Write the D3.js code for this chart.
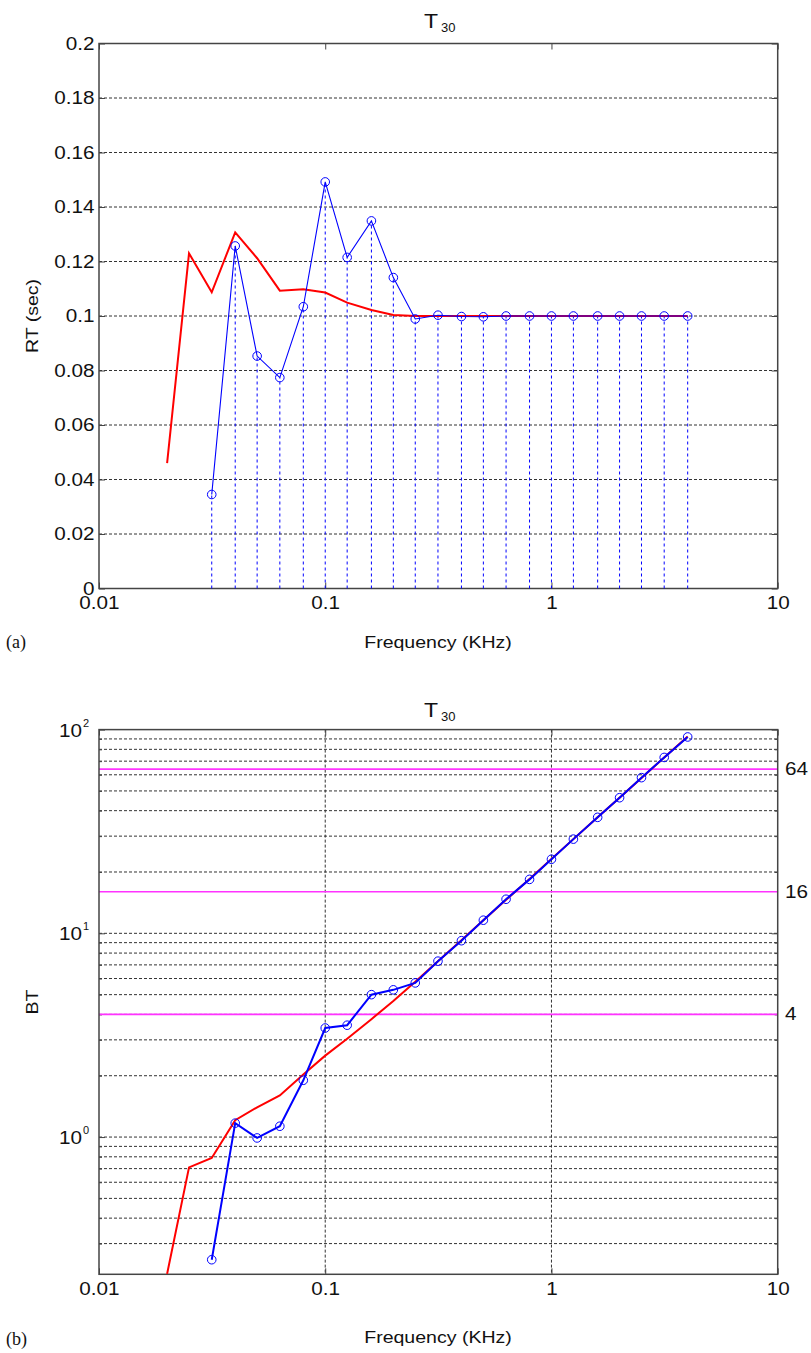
<!DOCTYPE html>
<html>
<head>
<meta charset="utf-8">
<script src="https://cdn.jsdelivr.net/npm/d3@7"></script>
<style>
  body { margin: 0; background: #fff; }
  svg text { font-family: "Liberation Sans", Arial, sans-serif; fill: #111; }
</style>
</head>
<body>
<div id="chart"></div>
<script>
// one-third octave band centres (kHz)
const freqs = [0.0315, 0.04, 0.05, 0.063, 0.08, 0.1, 0.125, 0.16, 0.2, 0.25, 0.315,
  0.4, 0.5, 0.63, 0.8, 1, 1.25, 1.6, 2, 2.5, 3.15, 4];
const modelFreqs = [0.02, 0.025, 0.0315, 0.04, 0.05, 0.063, 0.08, 0.1, 0.125, 0.16, 0.2, 0.25,
  0.315, 0.4, 0.5, 0.63, 0.8, 1, 1.25, 1.6, 2, 2.5, 3.15, 4];

// (a) reverberation time, sec
const rtMeasured = [0.0345, 0.1257, 0.0853, 0.0774, 0.1034, 0.1492, 0.1215, 0.1349, 0.1141, 0.0989, 0.1003,
  0.0998, 0.0997, 0.1, 0.1, 0.1, 0.1, 0.1, 0.1, 0.1, 0.1, 0.1];
const rtModel = [0.046, 0.123, 0.1087, 0.1307, 0.1212, 0.1093, 0.1098, 0.1086, 0.1049, 0.1022, 0.1004, 0.1,
  0.1, 0.1, 0.1, 0.1, 0.1, 0.1, 0.1, 0.1, 0.1, 0.1, 0.1, 0.1];

// (b) bandwidth x time product
const btMeasured = [0.25, 1.17, 0.99, 1.13, 1.9, 3.43, 3.54, 5.0, 5.28, 5.71, 7.3,
  9.2, 11.6, 14.7, 18.4, 23.1, 29.0, 37.1, 46.3, 58.1, 73.0, 92.0];
const btModel = [0.213, 0.71, 0.79, 1.21, 1.40, 1.60, 2.03, 2.51, 3.04, 3.79, 4.65, 5.79,
  7.30, 9.26, 11.6, 14.6, 18.5, 23.2, 29.0, 37.1, 46.3, 57.9, 73.0, 92.6];
const btLevels = [4, 16, 64];

const xTicks = [0.01, 0.1, 1, 10];
const xTickLabels = ["0.01", "0.1", "1", "10"];
const rtTicks = [0, 0.02, 0.04, 0.06, 0.08, 0.1, 0.12, 0.14, 0.16, 0.18, 0.2];
const btMajor = [1, 10, 100];
const btMajorExp = ["0", "1", "2"];
const btMinor = [0.3, 0.4, 0.5, 0.6, 0.7, 0.8, 0.9, 2, 3, 4, 5, 6, 7, 8, 9, 20, 30, 40, 50, 60, 70, 80, 90];

const W = 811, H = 1353;
const left = 99, right = 777.7;
const stretch = "scale(1.15,1)";
const gridDash = "3,2";
const boxColor = "#444";
const tickFont = "18px";

var svg = d3.select("#chart").append("svg")
  .attr("width", W)
  .attr("height", H);

var x = d3.scaleLog().domain([0.01, 10]).range([left, right]);

function label(g, px, py, txt, size, anchor, rot) {
  return g.append("text")
    .attr("transform", "translate(" + px + "," + py + ")" + (rot ? " rotate(-90)" : "") + " " + stretch)
    .attr("text-anchor", anchor)
    .style("font-size", size + "px")
    .text(txt);
}

function title(g, cy) {
  g.append("text")
    .attr("transform", "translate(" + 424 + "," + cy + ") " + stretch)
    .style("font-size", "20px")
    .text("T");
  g.append("text")
    .attr("x", 441).attr("y", cy + 4)
    .style("font-size", "13px")
    .text("30");
}

function frame(g, y0, y1) {
  // inward ticks on all four sides
  g.append("g")
    .attr("transform", "translate(0," + y1 + ")")
    .call(d3.axisBottom(x).tickValues(xTicks).tickSizeInner(-6).tickSizeOuter(0).tickPadding(8)
      .tickFormat(function(d, i) { return xTickLabels[i]; }))
    .call(a => a.select(".domain").remove())
    .call(a => a.selectAll("line").attr("stroke", boxColor))
    .call(a => a.selectAll("text").attr("transform", stretch).style("font-size", tickFont).attr("fill", "#111"));
  g.append("g")
    .attr("transform", "translate(0," + y0 + ")")
    .call(d3.axisTop(x).tickValues(xTicks).tickSizeInner(-6).tickSizeOuter(0).tickFormat(""))
    .call(a => a.select(".domain").remove())
    .call(a => a.selectAll("line").attr("stroke", boxColor));
  g.append("rect")
    .attr("x", left).attr("y", y0)
    .attr("width", right - left).attr("height", y1 - y0)
    .attr("fill", "none")
    .attr("stroke", boxColor)
    .attr("stroke-width", 1.5);
}

// ---------- (a) RT ----------
var ya = d3.scaleLinear().domain([0, 0.2]).range([588.5, 43.5]);
var ga = svg.append("g");

ga.selectAll(".gridA")
  .data(rtTicks.filter(d => d > 0 && d < 0.2))
  .enter().append("line")
    .attr("x1", left).attr("x2", right)
    .attr("y1", d => ya(d)).attr("y2", d => ya(d))
    .attr("stroke", "#333").attr("stroke-dasharray", gridDash);

ga.append("g")
  .attr("transform", "translate(" + left + ",0)")
  .call(d3.axisLeft(ya).tickValues(rtTicks).tickSizeInner(-6).tickSizeOuter(0).tickPadding(4)
    .tickFormat(d3.format("~g")))
  .call(a => a.select(".domain").remove())
  .call(a => a.selectAll("line").attr("stroke", boxColor))
  .call(a => a.selectAll("text").attr("transform", stretch).style("font-size", tickFont).attr("fill", "#111"));
ga.append("g")
  .attr("transform", "translate(" + right + ",0)")
  .call(d3.axisRight(ya).tickValues(rtTicks).tickSizeInner(-6).tickSizeOuter(0).tickFormat(""))
  .call(a => a.select(".domain").remove())
  .call(a => a.selectAll("line").attr("stroke", boxColor));

frame(ga, 43.5, 588.5);

// stems
ga.selectAll(".stem")
  .data(freqs)
  .enter().append("line")
    .attr("class", "stem")
    .attr("x1", d => x(d)).attr("x2", d => x(d))
    .attr("y1", ya(0))
    .attr("y2", (d, i) => ya(rtMeasured[i]))
    .attr("stroke", "#0000ff")
    .attr("stroke-width", 1)
    .attr("stroke-dasharray", "3,3");

ga.append("path")
  .datum(modelFreqs.map((f, i) => [f, rtModel[i]]))
  .attr("fill", "none")
  .attr("stroke", "#ff0000")
  .attr("stroke-width", 2)
  .attr("d", d3.line().x(d => x(d[0])).y(d => ya(d[1])));

ga.append("path")
  .datum(freqs.map((f, i) => [f, rtMeasured[i]]))
  .attr("fill", "none")
  .attr("stroke", "#0000ff")
  .attr("stroke-width", 1.1)
  .attr("d", d3.line().x(d => x(d[0])).y(d => ya(d[1])));

ga.selectAll(".dotA")
  .data(freqs)
  .enter().append("circle")
    .attr("cx", d => x(d))
    .attr("cy", (d, i) => ya(rtMeasured[i]))
    .attr("r", 4.3)
    .attr("fill", "none")
    .attr("stroke", "#0000ff")
    .attr("stroke-width", 1);

title(ga, 28);
label(ga, 38, 316, "RT (sec)", 17, "middle", true);
label(ga, 438, 648, "Frequency (KHz)", 17, "middle", false);
ga.append("text")
  .attr("x", 6).attr("y", 648)
  .style("font-family", "'Liberation Serif', 'Times New Roman', serif")
  .style("font-size", "18px")
  .text("(a)");

// ---------- (b) BT ----------
var yb = d3.scaleLog().domain([0.212, 100]).range([1274.3, 729.6]);
var gb = svg.append("g");

gb.append("clipPath").attr("id", "clipB")
  .append("rect")
    .attr("x", left).attr("y", 729.6)
    .attr("width", right - left).attr("height", 1274.3 - 729.6);

gb.selectAll(".gridBy")
  .data(btMinor.concat([1, 10]))
  .enter().append("line")
    .attr("x1", left).attr("x2", right)
    .attr("y1", d => yb(d)).attr("y2", d => yb(d))
    .attr("stroke", "#333").attr("stroke-dasharray", gridDash);

gb.selectAll(".gridBx")
  .data([0.1, 1])
  .enter().append("line")
    .attr("x1", d => x(d)).attr("x2", d => x(d))
    .attr("y1", 729.6).attr("y2", 1274.3)
    .attr("stroke", "#333").attr("stroke-dasharray", gridDash);

gb.append("g")
  .attr("transform", "translate(" + left + ",0)")
  .call(d3.axisLeft(yb).tickValues(btMajor).tickSizeInner(-6).tickSizeOuter(0).tickFormat(""))
  .call(a => a.select(".domain").remove())
  .call(a => a.selectAll("line").attr("stroke", boxColor));
gb.append("g")
  .attr("transform", "translate(" + left + ",0)")
  .call(d3.axisLeft(yb).tickValues(btMinor).tickSizeInner(-3).tickSizeOuter(0).tickFormat(""))
  .call(a => a.select(".domain").remove())
  .call(a => a.selectAll("line").attr("stroke", boxColor));
gb.append("g")
  .attr("transform", "translate(" + right + ",0)")
  .call(d3.axisRight(yb).tickValues(btMajor).tickSizeInner(-6).tickSizeOuter(0).tickFormat(""))
  .call(a => a.select(".domain").remove())
  .call(a => a.selectAll("line").attr("stroke", boxColor));
gb.append("g")
  .attr("transform", "translate(" + right + ",0)")
  .call(d3.axisRight(yb).tickValues(btMinor).tickSizeInner(-3).tickSizeOuter(0).tickFormat(""))
  .call(a => a.select(".domain").remove())
  .call(a => a.selectAll("line").attr("stroke", boxColor));

// 10^n labels
btMajor.forEach(function(v, i) {
  label(gb, 82, yb(v) + 7, "10", 18, "end", false);
  gb.append("text")
    .attr("x", 83).attr("y", yb(v) - 3)
    .style("font-size", "11px")
    .text(btMajorExp[i]);
});

// band lines
gb.selectAll(".level")
  .data(btLevels)
  .enter().append("line")
    .attr("x1", left).attr("x2", right)
    .attr("y1", d => yb(d)).attr("y2", d => yb(d))
    .attr("stroke", "#ff33ff")
    .attr("stroke-width", 1.6);
btLevels.forEach(function(v) {
  label(gb, 785, yb(v) + 6, String(v), 18, "start", false);
});

frame(gb, 729.6, 1274.3);

var plotB = gb.append("g").attr("clip-path", "url(#clipB)");

plotB.append("path")
  .datum(modelFreqs.map((f, i) => [f, btModel[i]]))
  .attr("fill", "none")
  .attr("stroke", "#ff0000")
  .attr("stroke-width", 2)
  .attr("d", d3.line().x(d => x(d[0])).y(d => yb(d[1])));

plotB.append("path")
  .datum(freqs.map((f, i) => [f, btMeasured[i]]))
  .attr("fill", "none")
  .attr("stroke", "#0000ff")
  .attr("stroke-width", 2)
  .attr("d", d3.line().x(d => x(d[0])).y(d => yb(d[1])));

plotB.selectAll(".dotB")
  .data(freqs)
  .enter().append("circle")
    .attr("cx", d => x(d))
    .attr("cy", (d, i) => yb(btMeasured[i]))
    .attr("r", 4.3)
    .attr("fill", "none")
    .attr("stroke", "#0000ff")
    .attr("stroke-width", 1);

title(gb, 717);
label(gb, 38, 1002, "BT", 17, "middle", true);
label(gb, 438, 1343, "Frequency (KHz)", 17, "middle", false);
gb.append("text")
  .attr("x", 6).attr("y", 1345)
  .style("font-family", "'Liberation Serif', 'Times New Roman', serif")
  .style("font-size", "18px")
  .text("(b)");
</script>
</body>
</html>
